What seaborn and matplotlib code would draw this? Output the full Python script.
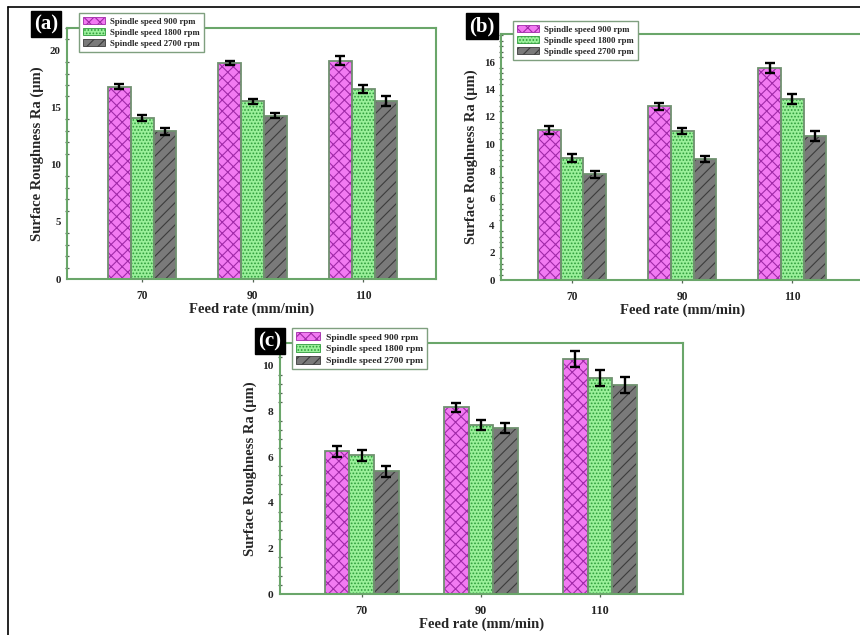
import numpy as np
import pandas as pd
import seaborn as sns
import matplotlib
matplotlib.use("Agg")
import matplotlib.pyplot as plt
from matplotlib.patches import Rectangle, Patch
from matplotlib.lines import Line2D
from matplotlib.container import BarContainer
from matplotlib.ticker import AutoMinorLocator

# ---- data -------------------------------------------------------------
feed_rates = ["70", "90", "110"]
speeds = ["Spindle speed 900 rpm", "Spindle speed 1800 rpm", "Spindle speed 2700 rpm"]

ra_a_900 = [16.87, 18.95, 19.12]
ra_a_1800 = [14.15, 15.57, 16.67]
ra_a_2700 = [12.93, 14.33, 15.60]
err_a_900 = [0.26, 0.19, 0.40]
err_a_1800 = [0.26, 0.22, 0.34]
err_a_2700 = [0.27, 0.24, 0.40]

ra_b_900 = [11.03, 12.79, 15.59]
ra_b_1800 = [8.99, 10.96, 13.33]
ra_b_2700 = [7.79, 8.90, 10.61]
err_b_900 = [0.27, 0.25, 0.34]
err_b_1800 = [0.28, 0.22, 0.37]
err_b_2700 = [0.25, 0.23, 0.37]

ra_c_900 = [6.25, 8.18, 10.31]
ra_c_1800 = [6.08, 7.42, 9.46]
ra_c_2700 = [5.38, 7.27, 9.15]
err_c_900 = [0.25, 0.20, 0.35]
err_c_1800 = [0.25, 0.22, 0.35]
err_c_2700 = [0.25, 0.22, 0.34]

# ---- style ------------------------------------------------------------
sns.set_theme(style="white")
plt.rcParams["font.family"] = ["Liberation Serif", "DejaVu Serif"]
plt.rcParams["font.weight"] = "bold"
plt.rcParams["axes.labelweight"] = "bold"
plt.rcParams["hatch.linewidth"] = 0.8

face_colors = ["#f27af2", "#9af09a", "#7a7a7a"]
hatch_colors = ["#a02aa8", "#2f9c3c", "#3c3c3c"]
hatches = ["xxx", ".....", "///"]
outline = "#6f916f"
spine_col = "#6aa66a"

W, H = 860, 635
fig = plt.figure(figsize=(W / 100, H / 100), dpi=100)


def fig_rect(x0, y0, x1, y1):
    return [x0 / W, 1 - y1 / H, (x1 - x0) / W, (y1 - y0) / H]


def panel(rect, series, errors, ymax, yticks, xlim, tag, tag_xy, leg_xy, fs=7.8, leg_fs=6.3):
    ax = fig.add_axes(rect)
    df = pd.DataFrame({
        "feed": np.tile(feed_rates, len(speeds)),
        "speed": np.repeat(speeds, len(feed_rates)),
        "ra": np.concatenate(series),
    })
    sns.barplot(data=df, x="feed", y="ra", hue="speed", order=feed_rates,
                hue_order=speeds, palette=face_colors, saturation=1,
                width=0.62, errorbar=None, legend=False, ax=ax)
    bar_groups = [c for c in ax.containers if isinstance(c, BarContainer)]
    for k, cont in enumerate(bar_groups):
        xs, ys = [], []
        for bar in cont:
            bar.set_hatch(hatches[k])
            bar.set_edgecolor(hatch_colors[k])
            bar.set_linewidth(0)
            ax.add_patch(Rectangle(bar.get_xy(), bar.get_width(), bar.get_height(),
                                   fill=False, ec=outline, lw=1.3, zorder=bar.get_zorder() + 0.1))
            xs.append(bar.get_x() + bar.get_width() / 2)
            ys.append(bar.get_height())
        ax.errorbar(xs, ys, yerr=errors[k], fmt="none", ecolor="black",
                    elinewidth=1.7, capsize=3.6, capthick=1.7, zorder=6)

    ax.set_ylim(0, ymax)
    ax.set_xlim(*xlim)
    ax.set_yticks(yticks)
    ax.yaxis.set_minor_locator(AutoMinorLocator(5))
    for s in ax.spines.values():
        s.set_color(spine_col)
        s.set_linewidth(1.5)
    ax.tick_params(axis="y", which="major", direction="inout", length=5, width=1,
                   color="#556655", labelsize=fs, labelcolor="#222222", pad=2)
    ax.tick_params(axis="y", which="minor", direction="inout", length=3.5, width=0.9,
                   color="#556655", left=True)
    ax.tick_params(axis="x", which="major", direction="inout", length=4, width=0.9,
                   color="#556655", labelsize=fs + 0.5, labelcolor="#222222", pad=6, bottom=True)
    for lbl in ax.get_xticklabels() + ax.get_yticklabels():
        lbl.set_fontweight("bold")
    ax.set_xlabel("Feed rate (mm/min)", fontsize=10.5, fontweight="bold", labelpad=0)
    ax.set_ylabel("Surface Roughness Ra (µm)", fontsize=10.5, fontweight="bold", labelpad=4)

    handles = [Patch(facecolor=face_colors[k], edgecolor=hatch_colors[k], hatch=hatches[k], lw=0.6)
               for k in range(3)]
    fig.legend(handles, speeds, loc="upper left",
               bbox_to_anchor=(leg_xy[0] / W, 1 - leg_xy[1] / H),
               bbox_transform=fig.transFigure, frameon=True, fancybox=False,
               edgecolor="#7f9f7f", framealpha=1, borderaxespad=0,
               prop={"family": "Liberation Serif", "weight": "bold", "size": leg_fs},
               handlelength=2.5, handleheight=0.95, labelspacing=0.25,
               handletextpad=0.6, borderpad=0.45)
    fig.text(tag_xy[0] / W, 1 - tag_xy[1] / H, tag, color="white", fontsize=15,
             fontweight="bold", ha="center", va="center", zorder=10,
             bbox=dict(boxstyle="square,pad=0.15", facecolor="black", edgecolor="black"))
    return ax


panel(fig_rect(67, 28, 436, 279),
      [ra_a_900, ra_a_1800, ra_a_2700], [err_a_900, err_a_1800, err_a_2700],
      22, [0, 5, 10, 15, 20], (-0.68, 2.66), "(a)", (46, 24), (79, 13))

panel(fig_rect(501, 34, 865, 280),
      [ra_b_900, ra_b_1800, ra_b_2700], [err_b_900, err_b_1800, err_b_2700],
      18.1, [0, 2, 4, 6, 8, 10, 12, 14, 16], (-0.645, 2.66), "(b)", (482, 26), (513, 21))

panel(fig_rect(280, 343, 683, 594),
      [ra_c_900, ra_c_1800, ra_c_2700], [err_c_900, err_c_1800, err_c_2700],
      11, [0, 2, 4, 6, 8, 10], (-0.685, 2.696), "(c)", (270, 341), (292, 328), fs=8.2, leg_fs=6.8)

# page frame lines
fig.add_artist(Line2D([8 / W, 8 / W], [0, 1 - 7 / H], color="black", lw=1.2,
                      transform=fig.transFigure))
fig.add_artist(Line2D([8 / W, 1], [1 - 7 / H, 1 - 7 / H], color="black", lw=1.2,
                      transform=fig.transFigure))

fig.savefig("out.png", dpi=100)
